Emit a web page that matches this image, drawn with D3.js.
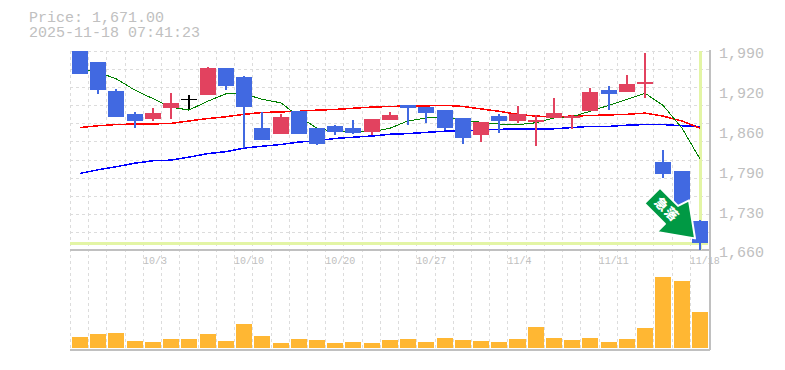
<!DOCTYPE html>
<html>
<head>
<meta charset="utf-8">
<script src="https://cdn.jsdelivr.net/npm/d3@7.9.0/dist/d3.min.js"></script>
<style>
    html, body { margin: 0; padding: 0; background: #fff; }
    text { font-family: "Liberation Mono", monospace; fill: #c0c0c0; }
</style>
</head>
<body>
<div id="chart"></div>
<script>
// Values
const priceText = "Price: 1,671.00";
const timeText = "2025-11-18 07:41:23";
const lastPrice = 1671;

const opens = [1990, 1972, 1924, 1885, 1877, 1895, 1911, 1917, 1962, 1947, 1862, 1852, 1890, 1862, 1866, 1862, 1856, 1876, 1900, 1897, 1892, 1879, 1851, 1882, 1874, 1872, 1879, 1879, 1890, 1925, 1922, 1935, 1806, 1791, 1708];
const highs = [1990, 1972, 1927, 1889, 1895, 1920, 1917, 1963, 1962, 1949, 1889, 1885, 1890, 1862, 1867, 1876, 1877, 1889, 1900, 1897, 1892, 1879, 1872, 1885, 1899, 1884, 1912, 1884, 1929, 1932, 1950, 1987, 1826, 1791, 1710];
const lows = [1952, 1919, 1881, 1862, 1874, 1877, 1894, 1917, 1925, 1829, 1842, 1852, 1852, 1834, 1851, 1852, 1851, 1876, 1867, 1871, 1859, 1836, 1839, 1854, 1871, 1832, 1879, 1861, 1890, 1892, 1922, 1912, 1779, 1730, 1660];
const closes = [1952, 1925, 1881, 1874, 1887, 1904, 1911, 1962, 1932, 1897, 1842, 1881, 1852, 1836, 1856, 1854, 1877, 1884, 1895, 1887, 1862, 1846, 1872, 1874, 1885, 1876, 1887, 1882, 1922, 1919, 1935, 1939, 1786, 1730, 1671];

const maShort = [1960, 1955, 1944, 1925, 1911, 1897, 1892, 1907, 1919, 1919, 1910, 1904, 1881, 1862, 1856, 1856, 1856, 1862, 1874, 1879, 1881, 1874, 1872, 1869, 1868, 1871, 1879, 1881, 1890, 1900, 1910, 1920, 1900, 1862, 1811];
const maMid = [1863, 1866, 1868, 1869, 1869, 1870, 1874, 1878, 1881, 1885, 1888, 1889, 1890, 1892, 1893, 1895, 1897, 1898, 1899, 1899, 1900, 1898, 1894, 1890, 1885, 1882, 1881, 1882, 1883, 1884, 1885, 1887, 1882, 1874, 1862];
const maLong = [1787, 1793, 1798, 1804, 1808, 1809, 1814, 1820, 1823, 1829, 1832, 1835, 1839, 1841, 1845, 1847, 1849, 1852, 1853, 1855, 1857, 1858, 1859, 1860, 1861, 1861, 1861, 1863, 1865, 1865, 1867, 1868, 1868, 1866, 1865];

const volume = [110, 140, 150, 70, 60, 90, 90, 140, 70, 240, 120, 50, 90, 80, 50, 60, 50, 80, 90, 60, 100, 80, 70, 60, 90, 210, 100, 80, 100, 60, 90, 200, 710, 670, 360];

const priceTicks = [1990, 1924, 1858, 1792, 1726, 1660];
const priceLabels = ["1,990", "1,920", "1,860", "1,790", "1,730", "1,660"];
const dateTicks = [4, 9, 14, 19, 24, 29, 34];
const dateLabels = ["10/3", "10/10", "10/20", "10/27", "11/4", "11/11", "11/18"];

const width = 785;
const height = 370;
const plotLeft = 70;
const plotRight = 708;
const rightEdge = 710;
const plotTop = 51;
const plotBottom = 250;
const volBottom = 350;

const svg = d3.select("#chart")
    .append("svg")
    .attr("width", width)
    .attr("height", height)
    .style("display", "block");

// Scales
const x = d3.scaleBand().domain(d3.range(opens.length)).range([plotLeft, plotRight]);
const barW = x.bandwidth() - 2.2;
const cx = i => Math.round(x(i) + 2 + barW / 2);
const y = d3.scaleLinear().domain([1660, 1990]).range([plotBottom, plotTop]);
const yVol = d3.scaleLinear().domain([0, 800]).range([348, 268]);

// Grid
const gridColor = "#dcdcdc";
const grid = svg.append("g").attr("shape-rendering", "crispEdges");
grid.selectAll(".h").data(d3.range(1660, 1990, 30))
    .join("line")
    .attr("class", "h")
    .attr("x1", plotLeft).attr("x2", rightEdge)
    .attr("y1", d => Math.round(y(d + 30))).attr("y2", d => Math.round(y(d + 30)))
    .attr("stroke", gridColor).attr("stroke-dasharray", "3,3");
grid.selectAll(".v").data(d3.range(opens.length))
    .join("line")
    .attr("class", "v")
    .attr("x1", d => Math.round(x(d))).attr("x2", d => Math.round(x(d)))
    .attr("y1", plotTop).attr("y2", volBottom)
    .attr("stroke", gridColor).attr("stroke-dasharray", "3,3");

// Frame
const frameColor = "#c0c0c0";
const frame = svg.append("g").attr("stroke", frameColor).attr("stroke-width", 1.5).attr("shape-rendering", "crispEdges");
frame.append("line").attr("x1", plotLeft).attr("x2", rightEdge).attr("y1", plotBottom).attr("y2", plotBottom);
frame.append("line").attr("x1", plotLeft).attr("x2", rightEdge).attr("y1", volBottom).attr("y2", volBottom);
frame.append("line").attr("x1", rightEdge).attr("x2", rightEdge).attr("y1", plotTop - 1).attr("y2", volBottom);

// Last price crosshair
const crossColor = "#e3f5a5";
svg.append("line")
    .attr("x1", plotLeft).attr("x2", plotRight)
    .attr("y1", y(lastPrice)).attr("y2", y(lastPrice))
    .attr("stroke", crossColor).attr("stroke-width", 3)
    .attr("shape-rendering", "crispEdges");
svg.append("line")
    .attr("x1", cx(34)).attr("x2", cx(34))
    .attr("y1", plotTop).attr("y2", plotBottom)
    .attr("stroke", crossColor).attr("stroke-width", 3)
    .attr("shape-rendering", "crispEdges");

// Moving averages
const line = d3.line().x((d, i) => cx(i)).y(d => y(d));
const lines = svg.append("g").attr("fill", "none").attr("shape-rendering", "crispEdges");
lines.append("path").datum(maLong).attr("d", line).attr("stroke", "#0000ff").attr("stroke-width", 1.5);
lines.append("path").datum(maMid).attr("d", line).attr("stroke", "#ff0000").attr("stroke-width", 1.5);
lines.append("path").datum(maShort).attr("d", line).attr("stroke", "#008000").attr("stroke-width", 1);

// Candles
const candleColor = i => closes[i] > opens[i] ? "#e2425f" : closes[i] < opens[i] ? "#4169e1" : "#000000";
const candles = svg.append("g").attr("shape-rendering", "crispEdges");
candles.selectAll(".wick").data(d3.range(opens.length))
    .join("line")
    .attr("class", "wick")
    .attr("x1", cx).attr("x2", cx)
    .attr("y1", i => y(highs[i])).attr("y2", i => y(lows[i]))
    .attr("stroke", candleColor).attr("stroke-width", 1.5);
candles.selectAll(".body").data(d3.range(opens.length))
    .join("rect")
    .attr("class", "body")
    .attr("x", i => x(i) + 2)
    .attr("width", barW)
    .attr("y", i => y(Math.max(opens[i], closes[i])))
    .attr("height", i => Math.max(1.5, Math.abs(y(opens[i]) - y(closes[i]))))
    .attr("fill", candleColor);

// Volume
svg.append("g").attr("shape-rendering", "crispEdges")
    .selectAll("rect").data(volume)
    .join("rect")
    .attr("x", (d, i) => x(i) + 2)
    .attr("width", barW)
    .attr("y", d => yVol(d))
    .attr("height", d => yVol(0) - yVol(d))
    .attr("fill", "#ffb733");

// Axes
const yAxis = d3.axisRight(y)
    .tickValues(priceTicks)
    .tickSize(0)
    .tickPadding(0)
    .tickFormat((d, i) => priceLabels[i]);
const yG = svg.append("g").attr("transform", "translate(719, 2)").call(yAxis);
yG.select(".domain").remove();
yG.selectAll("text").style("font-size", "15px").style("font-family", '"Liberation Mono", monospace').style("fill", "#c0c0c0");

const xAxis = d3.axisBottom(x)
    .tickValues(dateTicks)
    .tickSize(0)
    .tickPadding(0)
    .tickFormat((d, i) => dateLabels[i]);
const xG = svg.append("g").attr("transform", `translate(0, ${plotBottom + 7})`).call(xAxis);
xG.select(".domain").remove();
xG.selectAll(".tick").attr("transform", d => `translate(${x(d)}, 0)`);
xG.selectAll("text").attr("text-anchor", "start").style("font-size", "10px").style("font-family", '"Liberation Mono", monospace').style("fill", "#c0c0c0");

// Header
svg.append("text").attr("x", 29).attr("y", 22).style("font-size", "15px").text(priceText);
svg.append("text").attr("x", 29).attr("y", 37).style("font-size", "15px").text(timeText);

// Sharp fall arrow, offsets from the tip
const arrow = svg.append("g").attr("transform", `translate(${cx(34) - 5}, ${y(lastPrice) - 5})`);
arrow.append("path")
    .attr("d", "M-35,-50.5 L-50.5,-35 L-30,-14.5 L-38,-6.5 L0,0 L-6,-38 L-17,-32.5 Z")
    .attr("fill", "#009944")
    .attr("stroke", "#fff")
    .attr("stroke-width", 2)
    .attr("stroke-linejoin", "round");
arrow.append("text")
    .attr("transform", "translate(-29, -28) rotate(45)")
    .attr("text-anchor", "middle")
    .attr("dominant-baseline", "middle")
    .style("font-family", '"Noto Sans CJK JP", sans-serif')
    .style("font-weight", "900")
    .style("font-size", "13px")
    .style("letter-spacing", "1px")
    .style("fill", "#fff")
    .text("急落");
</script>
</body>
</html>
